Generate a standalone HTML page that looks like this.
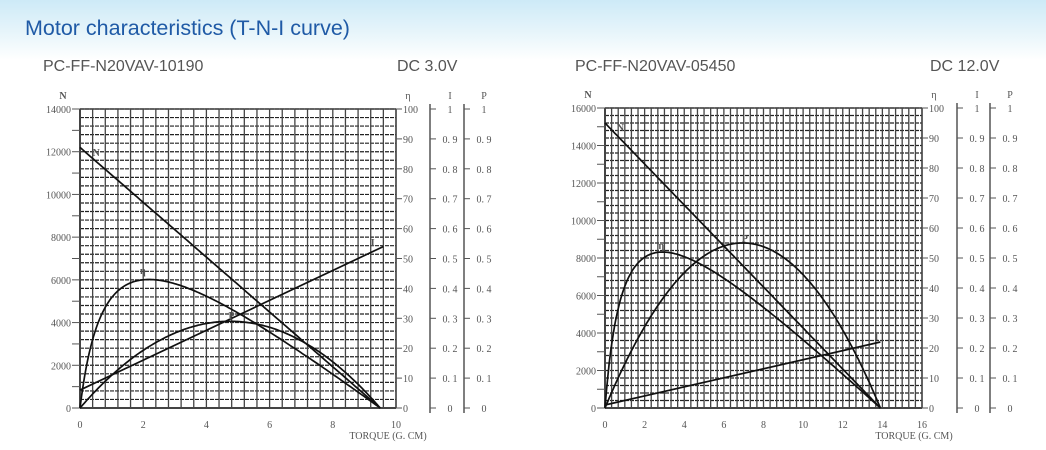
<!DOCTYPE html>
<html><head><meta charset="utf-8"><style>
html,body{margin:0;padding:0;background:#fff;}
body{width:1046px;height:450px;overflow:hidden;position:relative;font-family:"Liberation Sans",sans-serif;}
.bg{position:absolute;left:0;top:0;width:1046px;height:60px;background:linear-gradient(#cdeaf7,#eaf6fb 60%,#fff);}
.t{position:absolute;white-space:nowrap;}
svg{position:absolute;left:0;top:0;}
svg text{font-family:"Liberation Serif",serif;fill:#555;font-size:10px;}
</style></head><body>
<div class="bg"></div>
<div class="t" style="left:25px;top:16px;font-size:21.5px;color:#1f5aa6;">Motor characteristics (T-N-I curve)</div>
<div class="t" style="left:43px;top:58px;font-size:16px;color:#555;">PC-FF-N20VAV-10190</div>
<div class="t" style="left:397px;top:58px;font-size:16px;color:#555;">DC 3.0V</div>
<div class="t" style="left:575px;top:58px;font-size:16px;color:#555;">PC-FF-N20VAV-05450</div>
<div class="t" style="left:930px;top:58px;font-size:16px;color:#555;">DC 12.0V</div>
<svg id="s" width="1046" height="450" xmlns="http://www.w3.org/2000/svg"></svg>
<script>
var s=document.getElementById('s'),h='';
function L(x1,y1,x2,y2,st){h+='<line x1="'+x1+'" y1="'+y1+'" x2="'+x2+'" y2="'+y2+'" '+st+'/>';}
function T(x,y,t,a,extra){h+='<text x="'+x+'" y="'+y+'" text-anchor="'+(a||'start')+'" '+(extra||'')+'>'+t+'</text>';}
function chart(c){
 var x0=c.x0,x1=c.x1,y0=408,y1=c.ytop,W=x1-x0,H=y0-y1;
 for(var i=0;i<=c.rows;i++){var y=y1+H*i/c.rows;L(x0,y,x1,y,'stroke="#222" stroke-width="1.2" stroke-dasharray="4,1"');}
 for(var i=0;i<=c.cols;i++){var x=x0+W*i/c.cols;L(x,y1,x,y0,'stroke="#444" stroke-width="1.3"');}
 L(x0,y1,x0,y0,'stroke="#444" stroke-width="2"');L(x1,y1,x1,y0,'stroke="#444" stroke-width="1.5"');
 L(x0,y0,x1,y0,'stroke="#444" stroke-width="2"');L(x0,y1,x1,y1,'stroke="#444" stroke-width="1.5"');
 var nt=c.Nmax/1000;
 for(var i=0;i<=nt;i++){var y=y0-H*i/nt;L(x0-8,y,x0,y,'stroke="#555"');if(i%2==0)T(x0-9,y+4,i*1000,'end');}
 T(x0-17,y1-10,'N','middle','font-weight="bold"');
 for(var v=0;v<=c.Tmax;v+=2){T(x0+W*v/c.Tmax,y0+20,v,'middle');}
 T(x1-8,y0+31,'TORQUE (G. CM)','middle','font-size="9.5px" fill="#222"');
 var xi=c.xI,xp=c.xP;
 L(xi,y1-5,xi,y0+5,'stroke="#555" stroke-width="1.5"');L(xp,y1-5,xp,y0+5,'stroke="#555" stroke-width="1.5"');
 T(x1+12,y1-10,'η','middle');T(xi+20,y1-10,'I','middle');T(xp+20,y1-10,'P','middle');
 for(var i=0;i<=10;i++){var y=y0-H*i/10;L(x1,y,x1+6,y,'stroke="#555"');T(x1+7,y+4,i*10);
  L(xi,y,xi+6,y,'stroke="#555"');L(xp,y,xp+6,y,'stroke="#555"');
  var lb=i==0?'0':(i==10?'1':'0. '+i);T(xi+20,y+4,lb,'middle');T(xp+20,y+4,lb,'middle');}
 function px(t){return x0+W*t/c.Tmax;}
 function path(f,a,b){var d='';for(var k=0;k<=200;k++){var t=a+(b-a)*k/200;d+=(k?'L':'M')+px(t).toFixed(1)+','+f(t).toFixed(1);}h+='<path d="'+d+'" fill="none" stroke="#111" stroke-width="1.7"/>';}
 var Ts=c.Ts;
 path(function(t){return y0-H*(c.N0*(1-t/Ts))/c.Nmax;},0,Ts);
 path(function(t){var x=t/Ts;return y0-H*(c.A*x*(1-x)/(x+c.c))/100;},0,Ts);
 path(function(t){return y0-H*(c.k*t*(Ts-t));},0,Ts);
 L(px(0),y0-H*c.I0,px(c.Ie),y0-H*c.I1,'stroke="#111" stroke-width="1.7"');
 var st='font-weight="bold" fill="#111" font-size="12px"';
 T(px(c.nl[0]),c.nl[1],'N','start',st);
 T(px(c.el[0]),c.el[1],'η','start',st);
 T(px(c.pl[0]),c.pl[1],'P','start',st);
 T(px(c.il[0]),c.il[1],'I','start',st);
}
chart({x0:80,x1:396,ytop:109,rows:35,cols:25,Nmax:14000,Tmax:10,xI:430,xP:464,Ts:9.5,N0:12200,A:79.6,c:0.098,k:0.01285,I0:0.06,I1:0.54,Ie:9.6,nl:[0.4,156],el:[1.9,274],pl:[4.7,319],il:[9.2,246]});
chart({x0:605,x1:922,ytop:108,rows:40,cols:48,Nmax:16000,Tmax:16,xI:957,xP:990,Ts:13.9,N0:15200,A:89.3,c:0.075,k:0.01139,I0:0.01,I1:0.22,Ie:13.9,nl:[0.6,131],el:[2.7,249],pl:[6.9,242],il:[13.6,340]});
s.innerHTML=h;
</script>
</body></html>
